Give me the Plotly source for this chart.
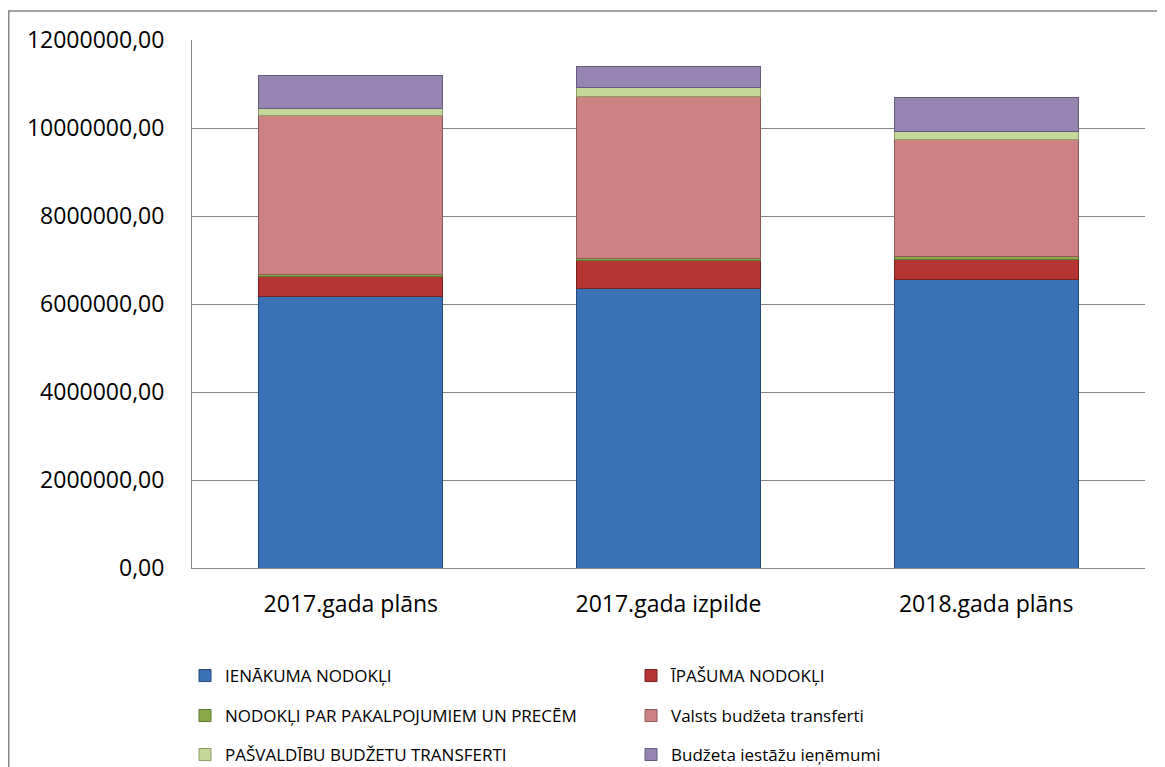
import plotly.graph_objects as go

categories = ["2017.gada plāns", "2017.gada izpilde", "2018.gada plāns"]

series_names = [
    "IENĀKUMA NODOKĻI",
    "ĪPAŠUMA NODOKĻI",
    "NODOKĻI PAR PAKALPOJUMIEM UN PRECĒM",
    "Valsts budžeta transferti",
    "PAŠVALDĪBU BUDŽETU TRANSFERTI",
    "Budžeta iestāžu ieņēmumi",
]
ienakuma_nodokli = [6180000, 6360000, 6560000]
ipasuma_nodokli = [440000, 640000, 460000]
pakalpojumi_preces = [40000, 40000, 50000]
valsts_transferti = [3635000, 3670000, 2665000]
pasvaldibu_transferti = [155000, 215000, 180000]
iestazu_ienemumi = [750000, 465000, 785000]

y_ticks = [0, 2000000, 4000000, 6000000, 8000000, 10000000, 12000000]

values = [ienakuma_nodokli, ipasuma_nodokli, pakalpojumi_preces,
          valsts_transferti, pasvaldibu_transferti, iestazu_ienemumi]
colors = ["#3a71b7", "#b53434", "#8aaa48", "#cc8282", "#c5d89a", "#9585b0"]
edges = ["#25497a", "#7a2020", "#5c7530", "#8f5858", "#8a9c68", "#655a80"]
legends = ["legend", "legend", "legend2", "legend2", "legend3", "legend3"]

FONT = "Open Sans"
W, H = 1157, 759

fig = go.Figure()
for name, vals, c, e, lg in zip(series_names, values, colors, edges, legends):
    fig.add_trace(go.Bar(
        x=categories, y=vals, name=name,
        marker=dict(color=c, line=dict(color=e, width=1)),
        legend=lg,
    ))

leg_common = dict(
    orientation="h", xanchor="left", yanchor="middle",
    xref="container", yref="container",
    x=177 / W, entrywidth=401, entrywidthmode="pixels",
    font=dict(family=FONT, size=17, color="#000000"),
    bgcolor="rgba(0,0,0,0)", traceorder="normal",
)

fig.update_layout(
    template="none",
    barmode="stack",
    bargap=0.42,
    width=W, height=H,
    margin=dict(l=184, r=20, t=32, b=199),
    paper_bgcolor="white", plot_bgcolor="white",
    font=dict(family=FONT, color="#000000"),
    separators=", ",
    showlegend=True,
    legend=dict(leg_common, y=(H - 668) / H),
    legend2=dict(leg_common, y=(H - 708) / H),
    legend3=dict(leg_common, y=(H - 747) / H),
    xaxis=dict(
        automargin=False,
        showgrid=False,
        showline=True, linecolor="#868686", linewidth=1,
        tickfont=dict(family=FONT, size=23, color="#000000"),
        ticks="", ticklabelstandoff=15,
    ),
    yaxis=dict(
        automargin=False,
        range=[0, 12000000], tickvals=y_ticks, tickformat=".2f",
        showgrid=True, gridcolor="#868686", gridwidth=1,
        showline=True, linecolor="#868686", linewidth=1,
        zeroline=False,
        tickfont=dict(family=FONT, size=23, color="#000000"),
        ticks="", ticklabelstandoff=22,
    ),
    shapes=[dict(
        type="rect", xref="paper", yref="paper",
        x0=-0.1923, x1=1.1, y0=-0.6, y1=1.0549,
        line=dict(color="#868686", width=1.5), fillcolor="rgba(0,0,0,0)",
        layer="below",
    )],
)

fig.write_html("out.html")
